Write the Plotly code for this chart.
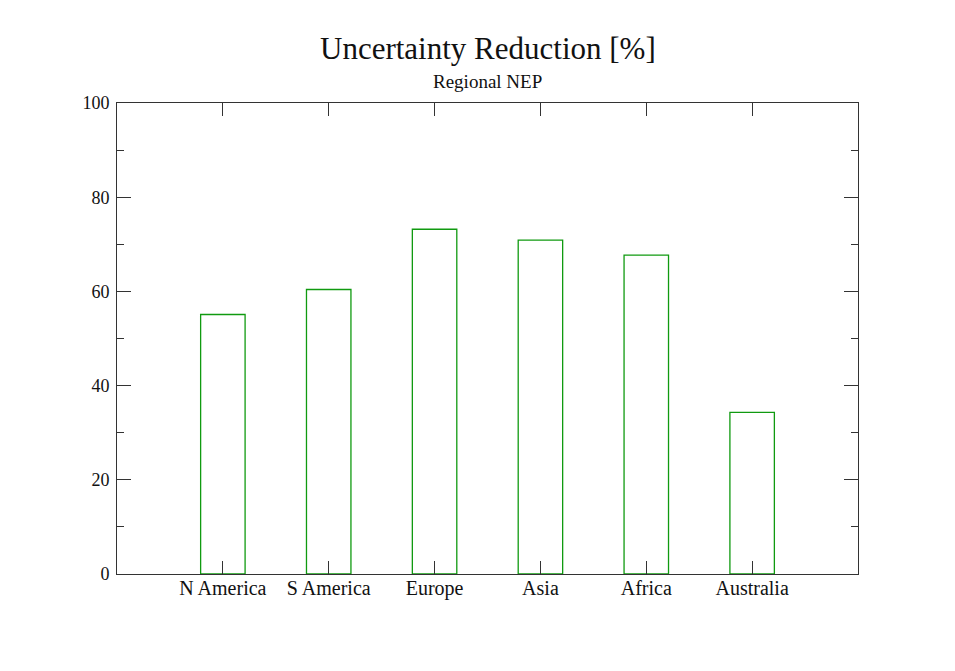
import plotly.graph_objects as go

categories = ["N America", "S America", "Europe", "Asia", "Africa", "Australia"]
positions = [1, 2, 3, 4, 5, 6]
reduction = [55.1, 60.4, 73.2, 70.9, 67.7, 34.3]
y_ticks = [0, 20, 40, 60, 80, 100]

FONT = "Liberation Serif, Times New Roman, serif"
AXC = "#333333"

W, H = 947, 663
L, R, T, B = 109, 97, 95, 97
PH = H - T - B

fig = go.Figure()
fig.add_trace(go.Bar(
    x=positions, y=reduction, width=0.42,
    marker=dict(color="rgba(0,0,0,0)", line=dict(color="#109a10", width=1.3)),
    showlegend=False,
))

fig.update_layout(
    width=W, height=H,
    margin=dict(l=L, r=R, t=T, b=B),
    paper_bgcolor="white", plot_bgcolor="white",
    font=dict(family=FONT, size=18, color="#111111"),
    xaxis=dict(
        range=[0, 7], tickmode="array", tickvals=positions, ticktext=categories,
        ticks="inside", ticklen=13, tickwidth=1, tickcolor=AXC,
        showline=True, linecolor=AXC, linewidth=1, mirror="ticks",
        showgrid=False, zeroline=False, ticklabelstandoff=-4,
        tickfont=dict(family=FONT, size=20),
    ),
    yaxis=dict(
        range=[0, 100], tickmode="array", tickvals=y_ticks,
        ticks="inside", ticklen=14, tickwidth=1, tickcolor=AXC,
        minor=dict(ticks="inside", ticklen=7, tickwidth=1, tickcolor=AXC, dtick=10, showgrid=False),
        showline=True, linecolor=AXC, linewidth=1, mirror="ticks",
        showgrid=False, zeroline=False, ticklabelstandoff=3,
        tickfont=dict(family=FONT, size=18),
    ),
    annotations=[
        dict(text="Uncertainty Reduction [%]", xref="paper", yref="paper",
             x=0.5, y=1 + (T - 40) / PH, xanchor="center", yanchor="middle",
             showarrow=False, font=dict(family=FONT, size=31, color="#111111")),
        dict(text="Regional NEP", xref="paper", yref="paper",
             x=0.5, y=1 + (T - 73) / PH, xanchor="center", yanchor="middle",
             showarrow=False, font=dict(family=FONT, size=19, color="#111111")),
    ],
)

fig.write_html("out.html")
